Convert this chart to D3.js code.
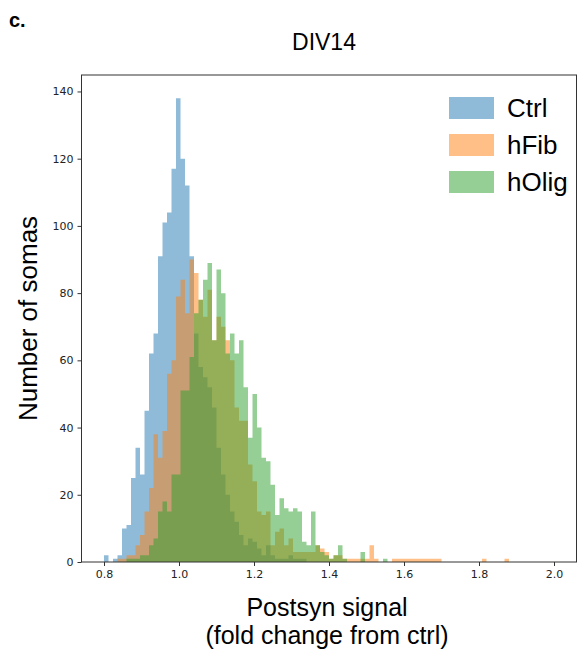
<!DOCTYPE html>
<html>
<head>
<meta charset="utf-8">
<script src="https://cdn.jsdelivr.net/npm/d3@7"></script>
<style>
  body { margin: 0; background: #fff; }
  svg { display: block; }
  .tick text { font-family: "DejaVu Sans", sans-serif; font-size: 11px; fill: #222; }
  .lbl { font-family: "Liberation Sans", Arial, sans-serif; fill: #000; }
</style>
</head>
<body>
<div id="figure"></div>
<script>
// histogram counts, one value per bin; all series share the same bins
const binStart = 0.8;
const binWidth = 0.012;

const ctrl = [2,0,1,2,10,11,25,34,26,45, 62,68,91,101,104,117,138,120,112,91,
              68,58,55,52,46,34,26,20,15,12, 8,5,7,6,4,2,5,2,1,1,
              1,2,1,1,1];
const hFib = [0,0,0,1,1,2,2,5,8,15, 22,38,31,39,56,60,79,84,74,90,
              86,78,73,81,66,73,70,66,60,46, 42,42,29,24,15,14,15,5,9,10,
              5,7,3,3,3,3,3,5,4,3, 1,2,2,1,1,1,1,1,1,5,
              1,0,0,0,1,1,1,1,1,1, 1,1,1,1,1,0,0,0,0,0,
              0,0,0,0,1,0,0,0,0,1];
const hOlig = [0,0,0,0,0,1,1,1,2,2, 5,7,15,18,15,26,26,51,51,61,
               74,78,84,89,66,87,80,62,68,62, 66,52,37,50,40,31,30,23,14,19,
               16,15,16,15,6,5,15,5,3,2, 1,2,5,1,0,0,0,3,0,0,
               0,0,1];

const seriesNames = ["Ctrl", "hFib", "hOlig"];
const seriesColors = ["#1f77b4", "#ff7f0e", "#2ca02c"];
const seriesData = [ctrl, hFib, hOlig];

const xTicks = [0.8, 1.0, 1.2, 1.4, 1.6, 1.8, 2.0];
const yTicks = [0, 20, 40, 60, 80, 100, 120, 140];

const W = 579, H = 653;
const margin = {top: 75, right: 2.5, bottom: 91, left: 81.5};
const width = W - margin.left - margin.right,
      height = H - margin.top - margin.bottom;

const svg = d3.select("#figure").append("svg")
  .attr("width", W).attr("height", H);

const g = svg.append("g")
  .attr("transform", `translate(${margin.left},${margin.top})`);

const x = d3.scaleLinear().domain([0.74, 2.06]).range([0, width]);
const y = d3.scaleLinear().domain([0, 138 * 1.05]).range([height, 0]);

// step outline for each histogram, drawn as one filled shape
const area = d3.area()
  .curve(d3.curveStepAfter)
  .x(d => x(d.x0))
  .y0(y(0))
  .y1(d => y(d.n));

seriesData.forEach(function(counts, i) {
  const pts = counts.map((n, k) => ({x0: binStart + k * binWidth, n: n}));
  pts.push({x0: binStart + counts.length * binWidth, n: 0});
  g.append("path")
    .attr("d", area(pts))
    .attr("fill", seriesColors[i])
    .attr("fill-opacity", 0.5);
});

// axes
const xAxis = d3.axisBottom(x).tickValues(xTicks).tickFormat(d3.format(".1f")).tickSize(4).tickPadding(4);
const yAxis = d3.axisLeft(y).tickValues(yTicks).tickSize(4).tickPadding(4);

g.append("g").attr("transform", `translate(0,${height})`).call(xAxis)
  .call(s => s.select(".domain").remove());
g.append("g").call(yAxis)
  .call(s => s.select(".domain").remove());
g.selectAll(".tick line").attr("stroke", "#333");

g.append("rect")
  .attr("width", width).attr("height", height)
  .attr("fill", "none").attr("stroke", "#333").attr("stroke-width", 1);

// legend
const leg = g.append("g").attr("transform", `translate(${449 - margin.left},${97 - margin.top})`);
seriesNames.forEach(function(name, i) {
  leg.append("rect")
    .attr("x", 0).attr("y", i * 37)
    .attr("width", 45).attr("height", 22)
    .attr("fill", seriesColors[i]).attr("fill-opacity", 0.5);
  leg.append("text").attr("class", "lbl")
    .attr("x", 58).attr("y", i * 37 + 20)
    .attr("font-size", 26)
    .text(name);
});

// texts
svg.append("text").attr("class", "lbl")
  .attr("x", 9).attr("y", 27)
  .attr("font-size", 20).attr("font-weight", "bold")
  .text("c.");

svg.append("text").attr("class", "lbl")
  .attr("x", 324).attr("y", 50)
  .attr("text-anchor", "middle").attr("font-size", 23)
  .text("DIV14");

svg.append("text").attr("class", "lbl")
  .attr("x", 327).attr("y", 616)
  .attr("text-anchor", "middle").attr("font-size", 25)
  .text("Postsyn signal");
svg.append("text").attr("class", "lbl")
  .attr("x", 327).attr("y", 644)
  .attr("text-anchor", "middle").attr("font-size", 25)
  .text("(fold change from ctrl)");

svg.append("text").attr("class", "lbl")
  .attr("transform", `translate(37,${margin.top + height / 2}) rotate(-90)`)
  .attr("text-anchor", "middle").attr("font-size", 26)
  .text("Number of somas");
</script>
</body>
</html>
